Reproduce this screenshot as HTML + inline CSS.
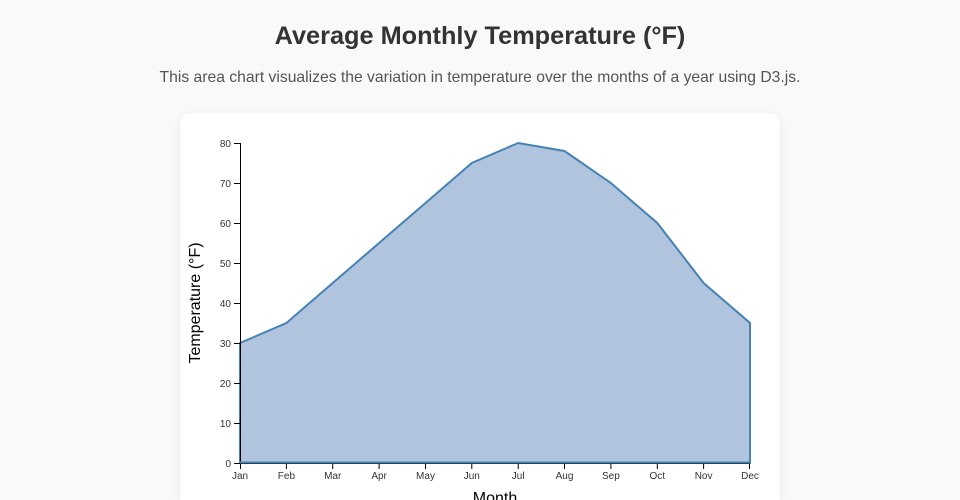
<!DOCTYPE html>
<html><head><style>
html,body{margin:0;width:960px;height:500px;overflow:hidden;background:#f9f9f9;font-family:"Liberation Sans",sans-serif;}
h1{position:absolute;top:22px;left:0;width:960px;text-align:center;margin:0;font-size:25.3px;font-weight:bold;color:#333;}
p{position:absolute;top:69px;left:0;width:960px;text-align:center;margin:0;font-size:15.7px;color:#555;}
.card{position:absolute;left:180px;top:113px;width:600px;height:387px;border-radius:10px 10px 0 0;background:#fff;box-shadow:0 2px 8px rgba(0,0,0,0.08);}
svg{position:absolute;left:0;top:0;}
</style></head><body>
<h1>Average Monthly Temperature (°F)</h1>
<p>This area chart visualizes the variation in temperature over the months of a year using D3.js.</p>
<div class="card"></div>
<svg width="960" height="500" font-family="Liberation Sans, sans-serif">
<path d="M240,343 L286.4,323 L332.7,283 L379.1,243 L425.5,203 L471.8,163 L518.2,143 L564.5,151 L610.9,183 L657.3,223 L703.6,283 L750,323 L750,463 L240,463 Z" fill="#b0c4de" stroke="#4682b4" stroke-width="2"/>
<g stroke="#000" stroke-width="1">
<line x1="240.5" y1="143" x2="240.5" y2="463"/>
<line x1="240" y1="463.5" x2="750" y2="463.5"/>
<line x1="234" x2="240" y1="463.5" y2="463.5"/><line x1="234" x2="240" y1="423.5" y2="423.5"/><line x1="234" x2="240" y1="383.5" y2="383.5"/><line x1="234" x2="240" y1="343.5" y2="343.5"/><line x1="234" x2="240" y1="303.5" y2="303.5"/><line x1="234" x2="240" y1="263.5" y2="263.5"/><line x1="234" x2="240" y1="223.5" y2="223.5"/><line x1="234" x2="240" y1="183.5" y2="183.5"/><line x1="234" x2="240" y1="143.5" y2="143.5"/>
<line x1="240.5" x2="240.5" y1="463" y2="469"/><line x1="286.4" x2="286.4" y1="463" y2="469"/><line x1="332.7" x2="332.7" y1="463" y2="469"/><line x1="379.1" x2="379.1" y1="463" y2="469"/><line x1="425.5" x2="425.5" y1="463" y2="469"/><line x1="471.8" x2="471.8" y1="463" y2="469"/><line x1="518.2" x2="518.2" y1="463" y2="469"/><line x1="564.5" x2="564.5" y1="463" y2="469"/><line x1="610.9" x2="610.9" y1="463" y2="469"/><line x1="657.3" x2="657.3" y1="463" y2="469"/><line x1="703.6" x2="703.6" y1="463" y2="469"/><line x1="749.5" x2="749.5" y1="463" y2="469"/>
</g>
<line x1="240" y1="462.5" x2="750" y2="462.5" stroke="#4682b4" stroke-width="2"/>
<g font-size="10" fill="#333" text-anchor="end">
<text x="231" y="467">0</text><text x="231" y="427">10</text><text x="231" y="387">20</text><text x="231" y="347">30</text><text x="231" y="307">40</text><text x="231" y="267">50</text><text x="231" y="227">60</text><text x="231" y="187">70</text><text x="231" y="147">80</text>
</g>
<g font-size="10" fill="#333" text-anchor="middle">
<text x="240" y="479">Jan</text><text x="286.4" y="479">Feb</text><text x="332.7" y="479">Mar</text><text x="379.1" y="479">Apr</text><text x="425.5" y="479">May</text><text x="471.8" y="479">Jun</text><text x="518.2" y="479">Jul</text><text x="564.5" y="479">Aug</text><text x="610.9" y="479">Sep</text><text x="657.3" y="479">Oct</text><text x="703.6" y="479">Nov</text><text x="750" y="479">Dec</text>
</g>
<text x="495" y="503" font-size="16" fill="#000" text-anchor="middle">Month</text>
<text transform="translate(200,303) rotate(-90)" font-size="16" fill="#000" text-anchor="middle">Temperature (°F)</text>
</svg>
</body></html>
